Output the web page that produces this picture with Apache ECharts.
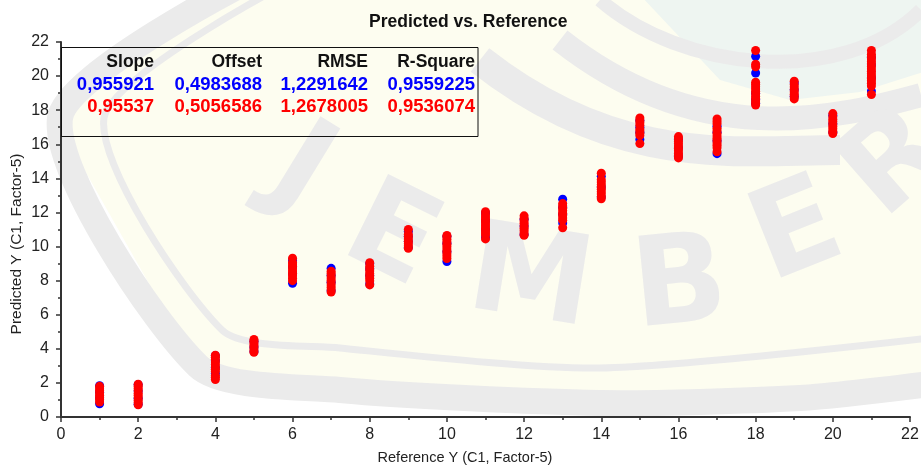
<!DOCTYPE html>
<html>
<head>
<meta charset="utf-8">
<script src="https://cdn.jsdelivr.net/npm/echarts@6/dist/echarts.min.js"></script>
<style>
  html, body { margin: 0; padding: 0; background: #ffffff; }
  #chart { width: 921px; height: 469px; }
</style>
</head>
<body>
<div id="chart"></div>
<script>
// Reference values (x) and the predicted values found at each of them.
const referenceValues = [1, 2, 4, 5, 6, 7, 8, 9, 10, 11, 12, 13, 14, 15, 16, 17, 18, 19, 20, 21];

// Calibration predictions (blue)
const calibrationPredicted = [
  [0.78, 1.12, 1.45, 1.83],
  [0.75, 1.10, 1.52, 1.90],
  [2.55, 2.90, 3.30, 3.60],
  [3.85, 4.10, 4.45],
  [7.85, 8.40, 8.80, 9.18],
  [7.40, 7.90, 8.30, 8.72],
  [7.80, 8.30, 8.70, 9.00],
  [9.95, 10.30, 10.60, 10.88],
  [9.12, 9.70, 10.20, 10.60],
  [10.55, 11.00, 11.50, 11.97],
  [10.70, 11.20, 11.60],
  [11.38, 11.90, 12.30, 12.78],
  [12.90, 13.50, 14.12],
  [16.28, 16.70, 17.00, 17.40],
  [15.30, 15.80, 16.30],
  [15.45, 16.20, 16.70, 17.06],
  [18.40, 18.63, 19.00, 20.18, 21.16],
  [18.80, 19.20, 19.60],
  [16.70, 17.20, 17.70],
  [19.12, 19.90, 20.65, 21.10]
];

// Validation predictions (red)
const validationPredicted = [
  [0.88, 1.02, 1.15, 1.27, 1.41, 1.55, 1.66, 1.80],
  [0.72, 0.86, 0.99, 1.13, 1.28, 1.40, 1.55, 1.68, 1.81, 1.92],
  [2.20, 2.33, 2.43, 2.67, 2.80, 2.94, 3.08, 3.22, 3.37, 3.50, 3.62],
  [3.80, 3.93, 4.06, 4.19, 4.31, 4.44, 4.55],
  [8.00, 8.14, 8.29, 8.43, 8.56, 8.70, 8.84, 8.97, 9.07, 9.32],
  [7.33, 7.46, 7.60, 7.74, 7.88, 8.02, 8.15, 8.28, 8.42, 8.55],
  [7.75, 8.00, 8.14, 8.28, 8.42, 8.56, 8.70, 8.85, 9.05],
  [9.90, 10.04, 10.17, 10.31, 10.45, 10.58, 10.72, 11.00],
  [9.30, 9.44, 9.58, 9.72, 9.86, 10.00, 10.14, 10.28, 10.43, 10.57, 10.65],
  [10.45, 10.68, 10.80, 10.93, 11.06, 11.20, 11.33, 11.47, 11.60, 11.74, 11.86, 12.04],
  [10.66, 10.80, 10.94, 11.08, 11.22, 11.36, 11.50, 11.64, 11.80],
  [11.10, 11.55, 11.68, 11.82, 11.96, 12.10, 12.24, 12.38, 12.52],
  [12.80, 12.94, 13.08, 13.22, 13.36, 13.50, 13.64, 13.78, 13.92, 14.30],
  [16.04, 16.52, 16.64, 16.78, 16.90, 17.12, 17.26, 17.40, 17.54],
  [15.20, 15.34, 15.48, 15.62, 15.76, 15.90, 16.04, 16.18, 16.32, 16.45],
  [15.56, 15.80, 15.94, 16.08, 16.22, 16.36, 16.50, 16.64, 16.80, 16.94, 17.20, 17.34, 17.48],
  [18.30, 18.42, 18.54, 18.68, 18.82, 18.96, 19.10, 19.24, 19.38, 19.52, 19.64, 20.55, 20.70, 21.50],
  [18.66, 18.80, 18.94, 19.08, 19.22, 19.36, 19.50, 19.70],
  [16.63, 16.77, 16.91, 17.05, 17.19, 17.33, 17.47, 17.61, 17.80],
  [18.92, 19.42, 19.58, 19.72, 19.86, 20.00, 20.14, 20.28, 20.42, 20.56, 20.72, 20.86, 21.00, 21.14, 21.28, 21.50]
];

// Regression statistics table
const statHeaders = ['Slope', 'Offset', 'RMSE', 'R-Square'];
const calibrationStats = ['0,955921', '0,4983688', '1,2291642', '0,9559225'];
const validationStats = ['0,95537', '0,5056586', '1,2678005', '0,9536074'];

const FONT = '"Liberation Sans", Arial, Helvetica, sans-serif';
const GREY = '#ebebeb';
const CREAM = '#fdfdf0';

function toPairs(groups) {
  const out = [];
  groups.forEach((g, i) => g.forEach(v => out.push([referenceValues[i], v])));
  return out;
}

// Faint university crest behind the plot
const crest = [
  { type: 'polygon', z: -30, silent: true,
    shape: { points: [[250, -20], [55, 118], [198, 370], [340, 392], [600, 405], [800, 400], [930, 386], [930, -20]] },
    style: { fill: CREAM } },
  { type: 'polygon', z: -29, silent: true,
    shape: { points: [[640, -5], [930, -5], [930, 70], [860, 92], [790, 100], [720, 80]] },
    style: { fill: '#eef5f1' } },
  { type: 'polyline', z: -28, silent: true,
    shape: { points: [[250, -20], [60, 118], [198, 366], [340, 390], [600, 403], [800, 398], [930, 384]], smooth: 0.25 },
    style: { stroke: GREY, lineWidth: 26, fill: null, lineJoin: 'round' } },
  { type: 'polyline', z: -28, silent: true,
    shape: { points: [[275, -10], [104, 118], [222, 330], [340, 348], [600, 368], [930, 338]], smooth: 0.25 },
    style: { stroke: GREY, lineWidth: 7, fill: null } },
  { type: 'bezierCurve', z: -28, silent: true,
    shape: { x1: 560, y1: 40, x2: 921, y2: 95, cpx1: 700, cpy1: 150, cpx2: 830, cpy2: 120 },
    style: { stroke: GREY, lineWidth: 24, fill: null } },
  { type: 'bezierCurve', z: -28, silent: true,
    shape: { x1: 480, y1: 60, x2: 840, y2: 150, cpx1: 620, cpy1: 170, cpx2: 740, cpy2: 150 },
    style: { stroke: GREY, lineWidth: 30, fill: null } },
  { type: 'bezierCurve', z: -28, silent: true,
    shape: { x1: 600, y1: 0, x2: 921, y2: 10, cpx1: 680, cpy1: 70, cpx2: 840, cpy2: 90 },
    style: { stroke: GREY, lineWidth: 14, fill: null } }
];

const letters = [
  ['J', 300, 172, -0.55],
  ['E', 390, 240, -0.46],
  ['M', 530, 284, -0.16],
  ['B', 680, 290, 0.10],
  ['E', 798, 236, 0.38],
  ['R', 898, 165, 0.72]
];
letters.forEach(([ch, x, y, r]) => {
  crest.push({
    type: 'text', z: -27, silent: true, x: x, y: y, rotation: r,
    style: { text: ch, font: 'bold 124px "DejaVu Sans", ' + FONT, fill: GREY, align: 'center', verticalAlign: 'middle' }
  });
});

// Statistics box in the upper-left corner of the plot
const colRight = [154, 262, 368, 475];
const table = [
  { type: 'rect', z: 50, silent: true,
    shape: { x: 61.5, y: 47.5, width: 416.5, height: 89 },
    style: { fill: null, stroke: '#111111', lineWidth: 1 } }
];
const rows = [
  { texts: statHeaders, y: 62, color: '#111111', size: 17.5 },
  { texts: calibrationStats, y: 85, color: '#0000ff', size: 18.5 },
  { texts: validationStats, y: 107, color: '#ff0000', size: 18.5 }
];
rows.forEach(row => {
  row.texts.forEach((t, i) => {
    table.push({
      type: 'text', z: 51, silent: true, x: colRight[i], y: row.y,
      style: { text: t, font: 'bold ' + row.size + 'px ' + FONT, fill: row.color, align: 'right', verticalAlign: 'middle' }
    });
  });
});

// Axis titles
const axisTitles = [
  { type: 'text', z: 51, silent: true, x: 465, y: 458,
    style: { text: 'Reference Y (C1, Factor-5)', font: '14.5px ' + FONT, fill: '#222222', align: 'center', verticalAlign: 'middle' } },
  { type: 'text', z: 51, silent: true, x: 16.5, y: 244, rotation: Math.PI / 2,
    style: { text: 'Predicted Y (C1, Factor-5)', font: '15.5px ' + FONT, fill: '#222222', align: 'center', verticalAlign: 'middle' } }
];

const axisCommon = {
  type: 'value',
  min: 0,
  max: 22,
  interval: 2,
  axisLine: { show: true, onZero: false, lineStyle: { color: '#333333', width: 2 } },
  axisTick: { show: true, inside: false, length: 5, lineStyle: { color: '#333333', width: 1.5 } },
  minorTick: { show: true, splitNumber: 2, length: 3, lineStyle: { color: '#333333', width: 1.5 } },
  splitLine: { show: false },
  minorSplitLine: { show: false },
  axisLabel: { fontSize: 16, fontFamily: FONT, color: '#222222' }
};

const chart = echarts.init(document.getElementById('chart'), null, { renderer: 'canvas' });
chart.setOption({
  animation: false,
  backgroundColor: '#ffffff',
  title: {
    text: 'Predicted vs. Reference',
    left: 364,
    top: 8,
    textStyle: { fontSize: 17.5, fontWeight: 'bold', fontFamily: FONT, color: '#111111' }
  },
  grid: { left: 61, right: 11, top: 42, bottom: 52, containLabel: false, outerBoundsMode: 'none' },
  xAxis: Object.assign({}, axisCommon, {
    axisLabel: Object.assign({}, axisCommon.axisLabel, { margin: 10 })
  }),
  yAxis: Object.assign({}, axisCommon, {
    axisLabel: Object.assign({}, axisCommon.axisLabel, { margin: 12 })
  }),
  graphic: { elements: crest.concat(table, axisTitles) },
  series: [
    {
      name: 'Calibration',
      type: 'scatter',
      data: toPairs(calibrationPredicted),
      symbol: 'circle',
      symbolSize: 9,
      itemStyle: { color: '#0000ff', opacity: 1 },
      emphasis: { disabled: true },
      z: 3
    },
    {
      name: 'Validation',
      type: 'scatter',
      data: toPairs(validationPredicted),
      symbol: 'circle',
      symbolSize: 9,
      itemStyle: { color: '#ff0000', opacity: 1 },
      emphasis: { disabled: true },
      z: 4
    }
  ]
});
</script>
</body>
</html>
